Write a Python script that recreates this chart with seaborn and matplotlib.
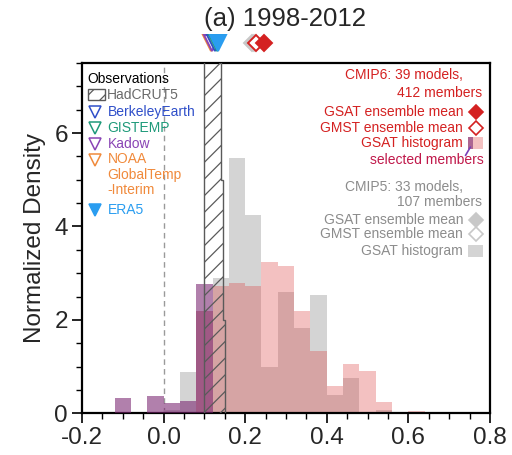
import numpy as np
import pandas as pd
import matplotlib
matplotlib.use("Agg")
import matplotlib.pyplot as plt
from matplotlib.patches import Rectangle
from matplotlib.lines import Line2D
import seaborn as sns

# ---- data -----------------------------------------------------------------
bin_edges = [-0.12, -0.08, -0.04, 0.00, 0.04, 0.08, 0.12, 0.16, 0.20, 0.24,
             0.28, 0.32, 0.36, 0.40, 0.44, 0.48, 0.52, 0.56, 0.60, 0.64]

cmip5_gsat = [0, 0, 0, 0.07, 0.89, 2.19, 2.90, 5.46, 4.24, 1.00,
              2.60, 1.83, 2.53, 0.39, 0.75, 0, 0.07, 0, 0]
cmip6_gsat = [0, 0, 0, 0, 0, 2.19, 2.72, 2.80, 2.72, 3.23,
              3.15, 2.20, 1.33, 0.59, 1.06, 0.90, 0.25, 0, 0.04]
cmip6_selected = [0.32, 0, 0.37, 0.23, 0.27, 2.76, 0, 0, 0, 0,
                  0, 0, 0, 0, 0, 0, 0, 0, 0]

hadcrut5_edges = [0.100, 0.105, 0.110, 0.115, 0.120, 0.125,
                  0.130, 0.135, 0.140, 0.145, 0.150]
hadcrut5_density = [12, 22, 28, 30, 28, 24, 20, 18, 5.0, 2.0]

obs_names = ["NOAA", "Kadow", "BerkeleyEarth", "GISTEMP", "ERA5"]
obs_trend = [0.117, 0.119, 0.125, 0.130, 0.134]
obs_colors = ["#f08a3c", "#8a45b5", "#2f4fc9", "#1f9a7a", "#2a9df0"]
obs_filled = [False, False, False, False, True]

mean_names = ["CMIP5 GMST", "CMIP5 GSAT", "CMIP6 GMST", "CMIP6 GSAT"]
mean_trend = [0.216, 0.221, 0.226, 0.246]
mean_colors = ["#c8c8c8", "#c8c8c8", "#d42121", "#d42121"]
mean_filled = [False, True, False, True]

# ---- style ----------------------------------------------------------------
sns.set_theme(style="ticks")
plt.rcParams["font.family"] = ["Liberation Sans", "DejaVu Sans"]
plt.rcParams["hatch.linewidth"] = 0.9

fig = plt.figure(figsize=(5.12, 4.55), dpi=100)
ax = fig.add_axes([0.160, 0.0916, 0.797, 0.770])

edges = np.array(bin_edges)
centers = (edges[:-1] + edges[1:]) / 2
hist_df = pd.DataFrame({
    "trend": centers,
    "cmip5": cmip5_gsat,
    "cmip6": cmip6_gsat,
    "selected": cmip6_selected,
})

ax.axvline(0, color="#9a9a9a", lw=1.0, ls=(0, (4, 3)), zorder=0.5)

sns.histplot(data=hist_df, x="trend", weights="cmip5", bins=bin_edges,
             stat="count", color="#d4d4d4", alpha=1.0, linewidth=0, ax=ax,
             zorder=1)
sns.histplot(data=hist_df, x="trend", weights="cmip6", bins=bin_edges,
             stat="count", color="#db4040", alpha=0.32, linewidth=0, ax=ax,
             zorder=2)
sns.histplot(data=hist_df, x="trend", weights="selected", bins=bin_edges,
             stat="count", color="#7a2470", alpha=0.58, linewidth=0, ax=ax,
             zorder=3)

# HadCRUT5 ensemble distribution as a hatched outline
ax.stairs(hadcrut5_density, hadcrut5_edges, fill=True, facecolor="none",
          edgecolor="#5a5a5a", hatch="//", linewidth=1.0, zorder=4)

# trend markers above the panel
xt = ax.get_xaxis_transform()
for name, val, col, filled in zip(obs_names, obs_trend, obs_colors, obs_filled):
    ax.plot([val], [1.057], marker="v", ms=11, transform=xt, clip_on=False,
            mfc=col if filled else "white", mec=col, mew=1.4, ls="none",
            zorder=6)
for name, val, col, filled in zip(mean_names, mean_trend, mean_colors, mean_filled):
    ax.plot([val], [1.057], marker="D", ms=8.5, transform=xt, clip_on=False,
            mfc=col if filled else "white", mec=col, mew=1.4, ls="none",
            zorder=6)

# ---- axes -----------------------------------------------------------------
ax.set_xlim(-0.2, 0.8)
ax.set_ylim(0, 7.5)
ax.set_xticks([-0.2, 0.0, 0.2, 0.4, 0.6, 0.8])
ax.set_xticklabels(["-0.2", "0.0", "0.2", "0.4", "0.6", "0.8"])
ax.set_xticks(np.arange(-0.2, 0.81, 0.05), minor=True)
ax.set_yticks([0, 2, 4, 6])
ax.set_yticks(np.arange(0, 7.51, 0.5), minor=True)
ax.set_xlabel("")
ax.set_ylabel("Normalized Density", fontsize=17.5, labelpad=6)
ax.tick_params(axis="both", which="major", length=7, width=1.2,
               labelsize=17.5, pad=3, color="black")
ax.tick_params(axis="both", which="minor", length=4, width=1.0, color="black")
for sp in ax.spines.values():
    sp.set_visible(True)
    sp.set_linewidth(1.6)
    sp.set_color("black")

fig.text(0.557, 0.958, "(a) 1998-2012", ha="center", va="center",
         fontsize=18.5)

# ---- left key: observations ------------------------------------------------
ta = ax.transAxes
fs = 10
ax.text(0.014, 0.954, "Observations", transform=ta, fontsize=fs,
        ha="left", va="center", color="black")
ax.add_patch(Rectangle((0.016, 0.893), 0.040, 0.034, transform=ta,
                       facecolor="white", edgecolor="#5a5a5a", hatch="//",
                       lw=1.0, clip_on=False, zorder=6))
ax.text(0.061, 0.909, "HadCRUT5", transform=ta, fontsize=fs,
        ha="left", va="center", color="#6a6a6a")
key_rows = [("BerkeleyEarth", 0.861), ("GISTEMP", 0.815), ("Kadow", 0.769),
            ("NOAA\nGlobalTemp\n-Interim", 0.723), ("ERA5", 0.580)]
for (label, yk), name in zip(key_rows, ["BerkeleyEarth", "GISTEMP", "Kadow",
                                        "NOAA", "ERA5"]):
    i = obs_names.index(name)
    col = obs_colors[i]
    ax.plot([0.032], [yk], marker="v", ms=9, transform=ta, ls="none",
            mfc=col if obs_filled[i] else "white", mec=col, mew=1.1,
            zorder=6, clip_on=False)
    if "\n" in label:
        ax.text(0.063, yk + 0.023, label, transform=ta, fontsize=fs,
                ha="left", va="top", color=col, linespacing=1.15)
    else:
        ax.text(0.063, yk, label, transform=ta, fontsize=fs, ha="left",
                va="center", color=col)

# ---- right key: models -----------------------------------------------------
red = "#d42121"
crimson = "#c0184a"
grey = "#8c8c8c"
rx = 0.934
mx = 0.966
ax.text(rx, 0.966, "CMIP6: 39 models,", transform=ta, fontsize=fs,
        ha="right", va="center", color=red)
ax.text(0.981, 0.914, "412 members", transform=ta, fontsize=fs,
        ha="right", va="center", color=red)
ax.text(rx, 0.860, "GSAT ensemble mean", transform=ta, fontsize=fs,
        ha="right", va="center", color=red)
ax.plot([mx], [0.860], marker="D", ms=7, mfc=red, mec=red, mew=1.2,
        transform=ta, ls="none", zorder=6)
ax.text(rx, 0.815, "GMST ensemble mean", transform=ta, fontsize=fs,
        ha="right", va="center", color=red)
ax.plot([mx], [0.815], marker="D", ms=7, mfc="white", mec=red, mew=1.2,
        transform=ta, ls="none", zorder=6)
ax.text(rx, 0.772, "GSAT histogram", transform=ta, fontsize=fs,
        ha="right", va="center", color=red)
ax.add_patch(Rectangle((0.946, 0.755), 0.037, 0.034, transform=ta,
                       facecolor="#db4040", alpha=0.32, lw=0, zorder=6))
ax.add_patch(Rectangle((0.946, 0.755), 0.013, 0.034, transform=ta,
                       facecolor="#7a2470", alpha=0.58, lw=0, zorder=7))
ax.add_line(Line2D([0.952, 0.940], [0.760, 0.736], transform=ta,
                   color="#7a3fb8", lw=1.2, zorder=7))
ax.text(0.985, 0.723, "selected members", transform=ta, fontsize=fs,
        ha="right", va="center", color=crimson)

ax.text(rx, 0.646, "CMIP5: 33 models,", transform=ta, fontsize=fs,
        ha="right", va="center", color=grey)
ax.text(0.981, 0.603, "107 members", transform=ta, fontsize=fs,
        ha="right", va="center", color=grey)
ax.text(rx, 0.552, "GSAT ensemble mean", transform=ta, fontsize=fs,
        ha="right", va="center", color=grey)
ax.plot([mx], [0.552], marker="D", ms=7, mfc="#c8c8c8", mec="#c8c8c8",
        mew=1.2, transform=ta, ls="none", zorder=6)
ax.text(rx, 0.512, "GMST ensemble mean", transform=ta, fontsize=fs,
        ha="right", va="center", color=grey)
ax.plot([mx], [0.512], marker="D", ms=7, mfc="white", mec="#c8c8c8",
        mew=1.2, transform=ta, ls="none", zorder=6)
ax.text(rx, 0.463, "GSAT histogram", transform=ta, fontsize=fs,
        ha="right", va="center", color=grey)
ax.add_patch(Rectangle((0.946, 0.446), 0.037, 0.034, transform=ta,
                       facecolor="#d4d4d4", lw=0, zorder=6))

fig.savefig("out.png", dpi=100)
